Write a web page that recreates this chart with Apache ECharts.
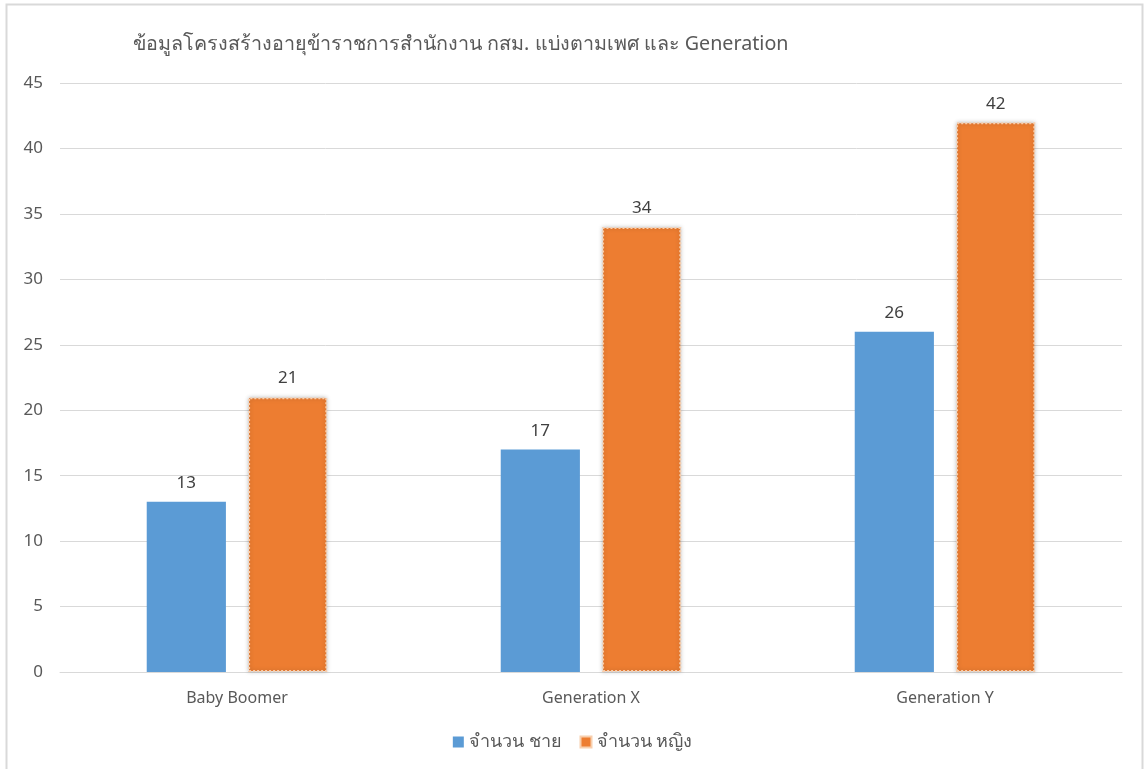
<!DOCTYPE html>
<html><head><meta charset="utf-8">
<script src="https://cdn.jsdelivr.net/npm/echarts@6/dist/echarts.min.js"></script>
<style>html,body{margin:0;padding:0;background:#fff}#c{width:1145px;height:769px}</style>
</head><body><div id="c"></div>
<script>
const categories = ['Baby Boomer', 'Generation X', 'Generation Y'];
const maleValues = [13, 17, 26];
const femaleValues = [21, 34, 42];
const seriesNames = ['จำนวน ชาย', 'จำนวน หญิง'];
const titleText = 'ข้อมูลโครงสร้างอายุข้าราชการสำนักงาน กสม. แบ่งตามเพศ และ Generation';

const chart = echarts.init(document.getElementById('c'));
const font = '"Segoe UI", "Noto Sans", "DejaVu Sans", sans-serif';
chart.setOption({
  animation: false,
  backgroundColor: '#fff',
  title: {
    text: titleText, left: 128, top: 29,
    textStyle: { fontFamily: font, fontSize: 19.7, fontWeight: 'normal', color: '#595959' }
  },
  graphic: [{
    type: 'rect', shape: { x: 6.5, y: 4.5, width: 1136, height: 800 },
    style: { fill: 'none', stroke: '#d9d9d9', lineWidth: 2 }, silent: true
  }],
  legend: {
    bottom: 13, left: 'center', itemWidth: 11, itemHeight: 11, itemGap: 18,
    textStyle: { fontFamily: font, fontSize: 18, color: '#595959' },
    data: [{ name: seriesNames[0], icon: 'rect' }, { name: seriesNames[1], icon: 'rect' }]
  },
  grid: { left: 60, right: 23, top: 83, bottom: 97, containLabel: false },
  xAxis: {
    type: 'category', data: categories,
    axisLine: { lineStyle: { color: '#d9d9d9', width: 1 } },
    axisTick: { show: false },
    axisLabel: { fontFamily: font, fontSize: 16, color: '#595959', margin: 18 }
  },
  yAxis: {
    type: 'value', min: 0, max: 45, interval: 5,
    axisLine: { show: false }, axisTick: { show: false },
    splitLine: { lineStyle: { color: '#d9d9d9', width: 1 } },
    axisLabel: { fontFamily: font, fontSize: 17, color: '#595959', margin: 17 }
  },
  series: [
    {
      name: seriesNames[0], type: 'bar', data: maleValues,
      barGap: '28%', barCategoryGap: '49%',
      itemStyle: { color: '#5b9bd5' },
      label: { show: true, position: 'top', distance: 10, fontFamily: font, fontSize: 17, color: '#404040' }
    },
    {
      name: seriesNames[1], type: 'bar', data: femaleValues,
      itemStyle: { color: '#ed7d31', borderColor: '#f8cfae', borderWidth: 2, borderType: 'dotted',
        shadowColor: 'rgba(0,0,0,0.25)', shadowBlur: 4 },
      label: { show: true, position: 'top', distance: 10, fontFamily: font, fontSize: 17, color: '#404040' }
    }
  ]
});
</script></body></html>
